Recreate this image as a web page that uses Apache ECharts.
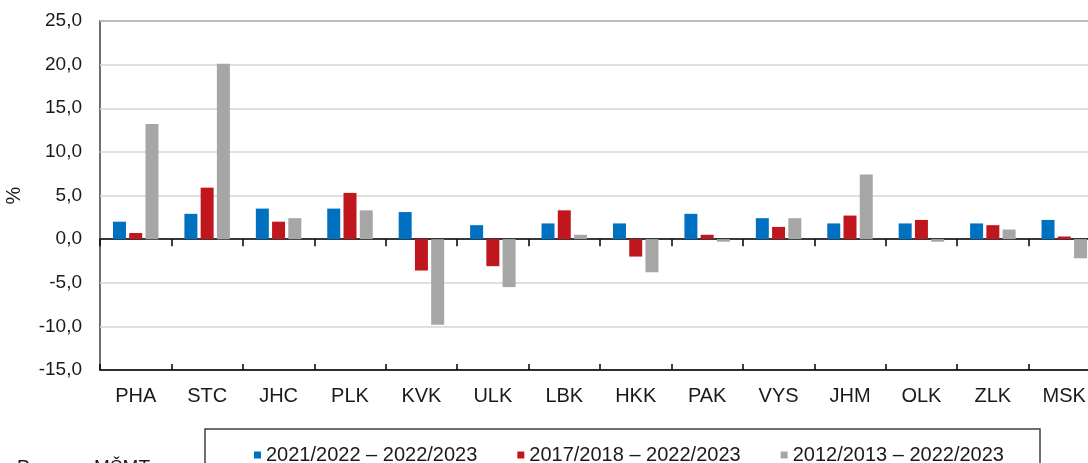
<!DOCTYPE html>
<html>
<head>
<meta charset="utf-8">
<script src="https://cdn.jsdelivr.net/npm/echarts@6/dist/echarts.min.js"></script>
<style>
html,body{margin:0;padding:0;background:#fff;}
#c{width:1088px;height:463px;}
</style>
</head>
<body>
<div id="c"></div>
<script>
var categories = ['PHA','STC','JHC','PLK','KVK','ULK','LBK','HKK','PAK','VYS','JHM','OLK','ZLK','MSK'];
var seriesNames = ['2021/2022 – 2022/2023','2017/2018 – 2022/2023','2012/2013 – 2022/2023'];
var s1 = [2.0, 2.9, 3.5, 3.5, 3.1, 1.6, 1.8, 1.8, 2.9, 2.4, 1.8, 1.8, 1.8, 2.2];
var s2 = [0.7, 5.9, 2.0, 5.3, -3.6, -3.1, 3.3, -2.0, 0.5, 1.4, 2.7, 2.2, 1.6, 0.3];
var s3 = [13.2, 20.1, 2.4, 3.3, -9.8, -5.5, 0.5, -3.8, -0.3, 2.4, 7.4, -0.3, 1.1, -2.2];
var colors = ['#0070C0','#C0171F','#A6A6A6'];
var FONT = '"Liberation Sans", Arial, sans-serif';

var chart = echarts.init(document.getElementById('c'), null, {renderer:'canvas'});
function mkSeries(name, data, color){
  return {
    name: name, type: 'bar', data: data, barWidth: 13, barGap: '25%',
    itemStyle: {color: color}, xAxisIndex: 0, yAxisIndex: 0, animation: false
  };
}
chart.setOption({
  animation: false,
  grid: {left: 100, right: -12, top: 21, bottom: 93, show: true, borderColor: '#404040', borderWidth: 1.5,
         containLabel: false, outerBoundsMode: 'none'},
  legend: {
    left: 249, top: 440, itemWidth: 7, itemHeight: 7, itemGap: 40, icon: 'rect',
    textStyle: {fontFamily: FONT, fontSize: 20, color: '#1a1a1a'},
    data: seriesNames
  },
  xAxis: [
    {type: 'category', data: categories, axisLine: {onZero: true, lineStyle: {color: '#000', width: 1.5}},
     axisTick: {show: true, inside: false, length: 7, lineStyle: {color: '#000', width: 1.5}}, axisLabel: {show: false}, splitLine: {show: false}},
    {type: 'category', data: categories, position: 'bottom', axisLine: {onZero: true, lineStyle: {color: '#000', width: 1.5}},
     axisTick: {show: true, inside: true, length: 6, lineStyle: {color: '#000', width: 1.5}}, axisLabel: {show: false}, splitLine: {show: false}},
    {type: 'category', data: categories, position: 'bottom', axisLine: {onZero: false, show: false},
     axisTick: {show: false}, axisLabel: {show: true, margin: 16, fontFamily: FONT, fontSize: 20, color: '#1a1a1a'}, splitLine: {show: false}}
  ],
  yAxis: {
    type: 'value', min: -15, max: 25, interval: 5,
    name: '%', nameLocation: 'middle', nameGap: 76, nameRotate: 90,
    nameTextStyle: {fontFamily: FONT, fontSize: 20, color: '#1a1a1a'},
    axisLine: {show: false}, axisTick: {show: false},
    axisLabel: {margin: 18, fontFamily: FONT, fontSize: 19, color: '#1a1a1a',
      formatter: function(v){ return v.toFixed(1).replace('.', ','); }},
    splitLine: {show: true, lineStyle: {color: '#d4d4d4', width: 1.5}}
  },
  graphic: [
    {type: 'rect', z: -1, shape: {x: 205, y: 429, width: 835, height: 60}, style: {fill: '#fff', stroke: '#404040', lineWidth: 1.5}},
    {type: 'text', left: 17, top: 458, style: {text: 'Pramen: MŠMT', font: '19px ' + FONT, fill: '#1a1a1a'}}
  ],
  series: [mkSeries(seriesNames[0], s1, colors[0]), mkSeries(seriesNames[1], s2, colors[1]), mkSeries(seriesNames[2], s3, colors[2])]
});
</script>
</body>
</html>
